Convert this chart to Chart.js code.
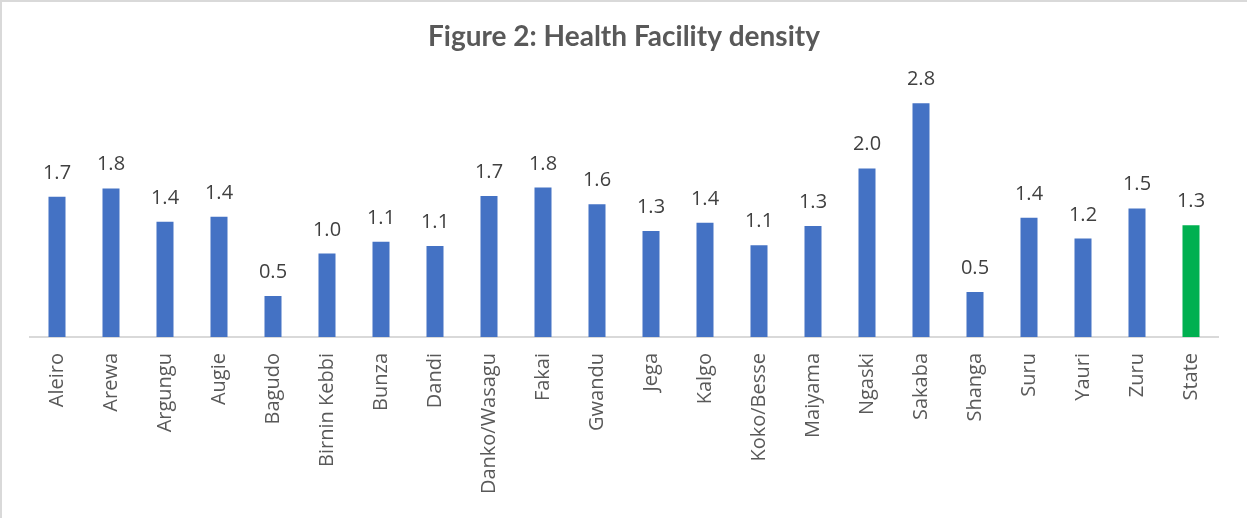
<!DOCTYPE html>
<html>
<head>
<meta charset="utf-8">
<script src="https://cdn.jsdelivr.net/npm/chart.js@4"></script>
<style>
  html, body { margin: 0; padding: 0; background: #fff; }
  #wrap {
    position: absolute; left: 0; top: 0;
    width: 1247px; height: 518px;
    box-sizing: border-box;
    border-top: 2px solid #d9d9d9;
    border-left: 2px solid #d9d9d9;
  }
</style>
</head>
<body>
<div id="wrap"><canvas id="chart"></canvas></div>
<script>
const lgas = ["Aleiro","Arewa","Argungu","Augie","Bagudo","Birnin Kebbi","Bunza","Dandi","Danko/Wasagu","Fakai","Gwandu","Jega","Kalgo","Koko/Besse","Maiyama","Ngaski","Sakaba","Shanga","Suru","Yauri","Zuru","State"];
const density = [1.68,1.78,1.38,1.44,0.49,1.0,1.14,1.09,1.69,1.79,1.59,1.27,1.37,1.10,1.33,2.02,2.8,0.54,1.43,1.18,1.54,1.34];

const BLUE = "#4472c4";
const GREEN = "#00b050";
const barColors = lgas.map(l => l === "State" ? GREEN : BLUE);

/* ---------- value labels above bars ---------- */
const valueLabels = {
  id: "valueLabels",
  afterDatasetsDraw(chart) {
    const c = chart.ctx;
    const meta = chart.getDatasetMeta(0);
    c.save();
    c.font = "20px 'Open Sans'";
    c.fillStyle = "#404040";
    c.textAlign = "center";
    c.textBaseline = "alphabetic";
    meta.data.forEach((bar, i) => {
      c.fillText(density[i].toFixed(1), bar.x, bar.y - 18);
    });
    c.restore();
  }
};

function drawChart() {
  new Chart(document.getElementById("chart"), {
    type: "bar",
    data: {
      labels: lgas,
      datasets: [{
        data: density,
        backgroundColor: barColors,
        barPercentage: 0.315,
        categoryPercentage: 1
      }]
    },
    options: {
      responsive: true,
      maintainAspectRatio: false,
      animation: false,
      layout: { padding: { left: 28, right: 29, top: 0, bottom: 0 } },
      plugins: {
        legend: { display: false },
        tooltip: { enabled: false },
        title: {
          display: true,
          text: "Figure 2: Health Facility density",
          color: "#595959",
          font: { family: "Lato", size: 28, weight: "bold" },
          padding: { top: 18, bottom: 33 }
        }
      },
      scales: {
        x: {
          grid: { display: false, drawTicks: false },
          border: { display: true, color: "#d9d9d9", width: 2 },
          ticks: {
            color: "#595959",
            font: { family: "'Open Sans'", size: 20 },
            minRotation: 90,
            maxRotation: 90,
            padding: 16,
            autoSkip: false
          },
          afterFit: s => { s.height = 181; }
        },
        y: {
          display: false,
          min: 0,
          max: 3
        }
      }
    },
    plugins: [valueLabels]
  });
}

Promise.all([
  document.fonts.load("20px 'Open Sans'"),
  document.fonts.load("bold 28px Lato")
]).then(drawChart, drawChart);
</script>
</body>
</html>
